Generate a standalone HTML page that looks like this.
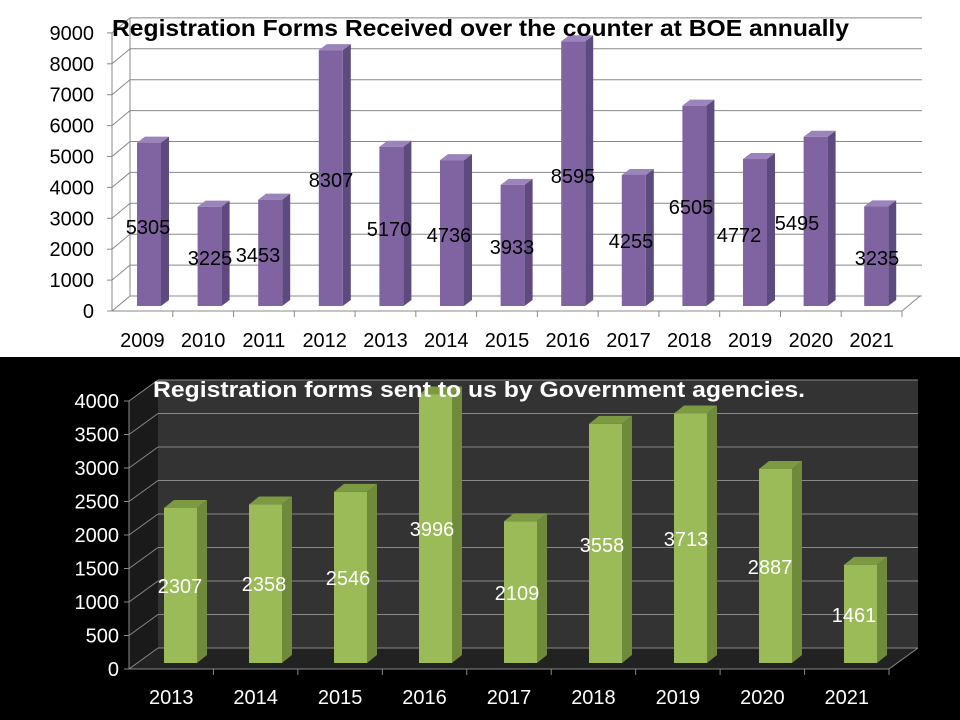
<!DOCTYPE html>
<html><head><meta charset="utf-8"><style>
body{margin:0;width:960px;height:720px;overflow:hidden;background:#fff}
svg{display:block}
text{font-family:"Liberation Sans",sans-serif}
</style></head><body>
<svg width="960" height="720" viewBox="0 0 960 720">
<rect x="0" y="0" width="960" height="357" fill="#fff"/>
<rect x="0" y="357" width="960" height="363" fill="#000"/>
<g id="top"></g>
<g id="bot"></g>
</svg>
<script>
const NS="http://www.w3.org/2000/svg";
function el(p,t,a,txt){const e=document.createElementNS(NS,t);for(const k in a)e.setAttribute(k,a[k]);if(txt!==undefined)e.textContent=txt;p.appendChild(e);return e;}
// TOP
(function(){
const g=document.getElementById('top');
const fx=112,fy=311,dx=18,dy=-15,step=30.9,right=902;
for(let i=0;i<=9;i++){
 const y=fy-i*step;
 el(g,'line',{x1:fx,y1:y,x2:fx+dx,y2:y+dy,stroke:'#888','stroke-width':1});
 el(g,'line',{x1:fx+dx,y1:y+dy,x2:right+20,y2:y+dy,stroke:'#888','stroke-width':1});
 el(g,'line',{x1:fx-5,y1:y,x2:fx,y2:y,stroke:'#888'});
 el(g,'text',{x:fx-18,y:y+7,'font-size':20,'text-anchor':'end',fill:'#000'},String(i*1000));
}
el(g,'line',{x1:fx+dx,y1:fy+dy,x2:fx+dx,y2:fy+dy-9*step,stroke:'#888'});
el(g,'line',{x1:fx,y1:fy,x2:fx,y2:fy-9*step,stroke:'#888'});
el(g,'line',{x1:fx,y1:fy,x2:right,y2:fy,stroke:'#888'});
el(g,'line',{x1:right,y1:fy,x2:right+dx,y2:fy+dy,stroke:'#888'});
const vals=[5305,3225,3453,8307,5170,4736,3933,8595,4255,6505,4772,5495,3235];
const lab=[[148,227],[210,258],[258,255],[331,180],[389,229],[449,235],[512,247],[573,176],[631,241],[691,207],[739,235],[797,223],[877,258]];
const cw=(right-fx)/13;
vals.forEach((v,i)=>{
 const x=137+i*60.6,w=24,b=306,h=v*0.0308,t=b-h;
 el(g,'polygon',{points:`${x+w},${b} ${x+w+8},${b-6} ${x+w+8},${t-6} ${x+w},${t}`,fill:'#5d4a7e'});
 el(g,'polygon',{points:`${x},${t} ${x+8},${t-6} ${x+w+8},${t-6} ${x+w},${t}`,fill:'#9a84bb'});
 el(g,'rect',{x:x,y:t,width:w,height:h,fill:'#8064a2'});
 el(g,'line',{x1:fx+cw*(i+1),y1:fy,x2:fx+cw*(i+1),y2:fy+6,stroke:'#888'});
 el(g,'text',{x:fx+cw*(i+0.5),y:347,'font-size':20,'text-anchor':'middle',fill:'#000'},String(2009+i));
 el(g,'text',{x:lab[i][0],y:lab[i][1]+7,'font-size':20,'text-anchor':'middle',fill:'#000'},String(v));
});
el(g,'text',{x:112,y:36,'font-size':23,'font-weight':'bold',fill:'#000',textLength:737,lengthAdjust:'spacingAndGlyphs'},'Registration Forms Received over the counter at BOE annually');
})();
// BOTTOM
(function(){
const g=document.getElementById('bot');
const fx=129,fy=669,dx=29,dy=-21,step=33.5,right=889;
el(g,'polygon',{points:`${fx+dx},${fy+dy} ${right+dx},${fy+dy} ${right+dx},${fy+dy-8*step} ${fx+dx},${fy+dy-8*step}`,fill:'#333'});
el(g,'polygon',{points:`${fx},${fy} ${right},${fy} ${right+dx},${fy+dy} ${fx+dx},${fy+dy}`,fill:'#222'});
el(g,'polygon',{points:`${fx},${fy} ${fx+dx},${fy+dy} ${fx+dx},${fy+dy-8*step} ${fx},${fy-8*step}`,fill:'#1a1a1a'});
for(let i=0;i<=8;i++){
 const y=fy-i*step;
 el(g,'line',{x1:fx,y1:y,x2:fx+dx,y2:y+dy,stroke:'#888'});
 el(g,'line',{x1:fx+dx,y1:y+dy,x2:right+dx,y2:y+dy,stroke:'#888'});
 el(g,'line',{x1:fx-5,y1:y,x2:fx,y2:y,stroke:'#888'});
 el(g,'text',{x:fx-10,y:y+7,'font-size':20,'text-anchor':'end',fill:'#fff'},String(i*500));
}
el(g,'line',{x1:fx,y1:fy,x2:fx,y2:fy-8*step,stroke:'#888'});
el(g,'line',{x1:fx,y1:fy,x2:right,y2:fy,stroke:'#888'});
el(g,'line',{x1:right,y1:fy,x2:right+dx,y2:fy+dy,stroke:'#888'});
const vals=[2307,2358,2546,3996,2109,3558,3713,2887,1461];
const lab=[[180,586],[264,584],[348,578],[432,529],[517,593],[602,545],[686,539],[770,567],[854,615]];
const cw=(right-fx)/9;
vals.forEach((v,i)=>{
 const x=164+i*85,w=33,b=663,h=v*0.0672,t=b-h;
 el(g,'polygon',{points:`${x+w},${b} ${x+w+10},${b-8} ${x+w+10},${t-8} ${x+w},${t}`,fill:'#6e8a3a'});
 el(g,'polygon',{points:`${x},${t} ${x+10},${t-8} ${x+w+10},${t-8} ${x+w},${t}`,fill:'#7d9a42'});
 el(g,'rect',{x:x,y:t,width:w,height:h,fill:'#9bbb59'});
 el(g,'line',{x1:fx+cw*(i+1),y1:fy,x2:fx+cw*(i+1),y2:fy+6,stroke:'#888'});
 el(g,'text',{x:fx+cw*(i+0.5),y:704,'font-size':20,'text-anchor':'middle',fill:'#fff'},String(2013+i));
 el(g,'text',{x:lab[i][0],y:lab[i][1]+7,'font-size':20,'text-anchor':'middle',fill:'#fff'},String(v));
});
el(g,'text',{x:153,y:397,'font-size':22,'font-weight':'bold',fill:'#fff',textLength:652,lengthAdjust:'spacingAndGlyphs'},'Registration forms sent to us by Government agencies.');
})();
</script>
</body></html>
